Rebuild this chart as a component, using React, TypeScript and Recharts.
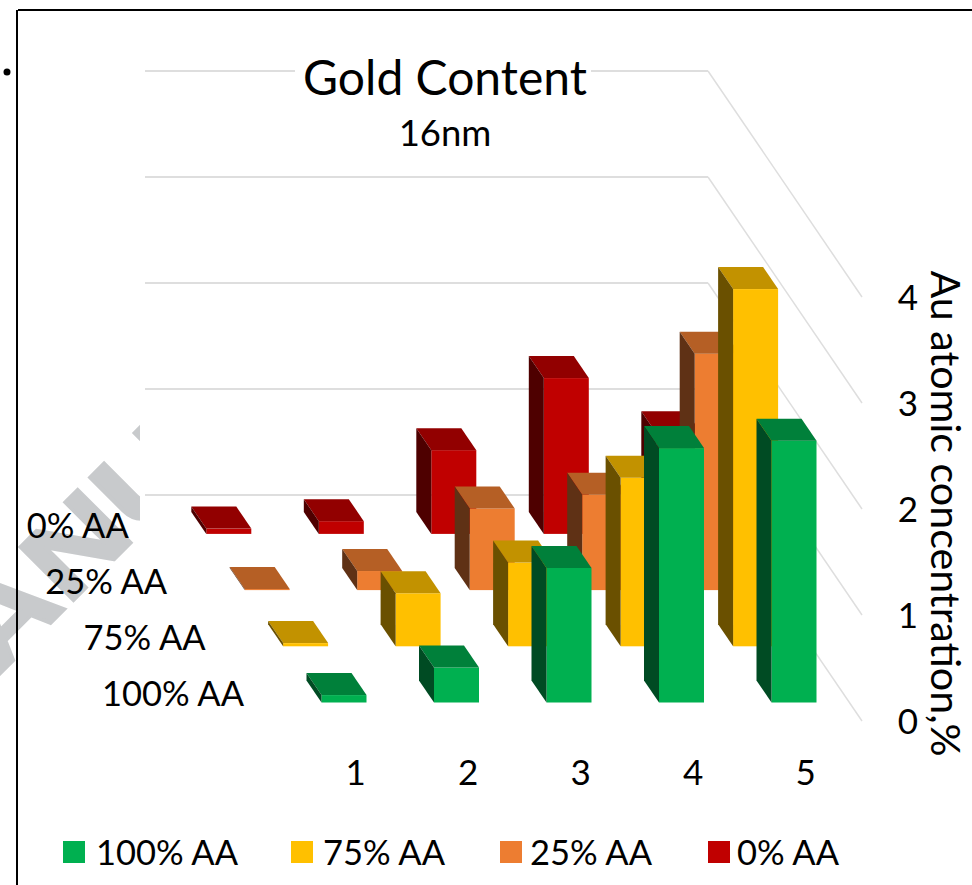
import { Bar, BarChart, CartesianGrid, XAxis, YAxis } from "recharts";

const FONT = "Lato, sans-serif";
const LABEL_SIZE = 34.5;
const TICK_SIZE = 35;

const runs = ["1", "2", "3", "4", "5"];
const yTicks = [0, 1, 2, 3, 4];

// back row first so the nearer rows paint over it
const seriesNames = ["0% AA", "25% AA", "75% AA", "100% AA"];
const red = [0.05, 0.12, 0.79, 1.47, 0.95];
const orange = [0.01, 0.18, 0.77, 0.9, 2.23];
const yellow = [0.03, 0.5, 0.79, 1.59, 3.37];
const green = [0.07, 0.33, 1.27, 2.4, 2.47];

const seriesValues = [red, orange, yellow, green];
const frontColors = ["#C00000", "#ED7D31", "#FFC000", "#00B050"];
const topColors = ["#920000", "#B55F25", "#C29200", "#00803A"];
const sideColors = ["#4E0000", "#5F3115", "#6A5000", "#004B23"];

const legendX = [63, 291, 500, 708];
const legendTextX = [96, 323, 530, 737];

const rows = runs.map((run, i) => ({
  run,
  s0: red[i],
  s1: orange[i],
  s2: yellow[i],
  s3: green[i],
}));

// one row further back in the fake perspective
const ROW_DX = 38.4;
const ROW_DY = 56.2;
const SIDE_DX = 15;
const SIDE_DY = 22;
const WALL_DY = -207.5;

function Box3D(props: any) {
  const { x, y, width, height, row } = props;
  const rowsBack = seriesValues.length - 1 - row;
  const left = x - rowsBack * ROW_DX + 0.5;
  const top = y - rowsBack * ROW_DY;
  const right = left + width;
  const bottom = top + height;
  const sideTop = top - SIDE_DY;
  const backLeft = left - SIDE_DX;
  return (
    <g>
      <rect x={left} y={top} width={width} height={height} fill={frontColors[row]} />
      <polygon
        points={`${backLeft},${sideTop} ${right - SIDE_DX},${sideTop} ${right},${top} ${left},${top}`}
        fill={topColors[row]}
      />
      <polygon
        points={`${backLeft},${sideTop} ${left},${top} ${left},${bottom} ${backLeft},${bottom - SIDE_DY}`}
        fill={sideColors[row]}
      />
    </g>
  );
}

function WallLine(props: any) {
  const y = props.y1;
  return (
    <g key={y}>
      <line x1={145} x2={708} y1={y + WALL_DY} y2={y + WALL_DY} stroke="#DEDEDE" strokeWidth={2} />
      <line x1={708} x2={862} y1={y + WALL_DY} y2={y + 18.5} stroke="#DEDEDE" strokeWidth={1.5} />
    </g>
  );
}

function RunTick(props: any) {
  return (
    <text
      x={props.x + 12.5}
      y={770.5}
      textAnchor="middle"
      dominantBaseline="central"
      fontFamily={FONT}
      fontSize={TICK_SIZE}
      fill="#000"
    >
      {props.payload.value}
    </text>
  );
}

function ValueTick(props: any) {
  return (
    <text
      x={908}
      y={props.y + 17.5}
      textAnchor="middle"
      dominantBaseline="central"
      fontFamily={FONT}
      fontSize={TICK_SIZE}
      fill="#000"
    >
      {props.payload.value}
    </text>
  );
}

export default function App() {
  return (
    <div style={{ position: "absolute", left: 0, top: 0, width: 972, height: 885, background: "#fff", overflow: "hidden" }}>
      <BarChart
        width={972}
        height={885}
        data={rows}
        barSize={45}
        barGap={-45}
        margin={{ top: 278.5, bottom: 122.5, left: 287, right: 62.5 }}
      >
        <defs>
          <clipPath id="stampClip">
            <rect x={0} y={420} width={140} height={300} />
          </clipPath>
        </defs>
        <g clipPath="url(#stampClip)">
          <text
            transform="translate(-3 677) rotate(-45) scale(1.25 1)"
            fontFamily="Liberation Sans, sans-serif"
            fontWeight={700}
            fontSize={110}
            fill="#C8CACC"
            stroke="#C8CACC"
            strokeWidth={3}
          >
            ANU
          </text>
        </g>
        <line x1={18} x2={972} y1={10} y2={10} stroke="#000" strokeWidth={2} />
        <line x1={17} x2={17} y1={10} y2={885} stroke="#000" strokeWidth={2} />
        <circle cx={7} cy={72} r={3.5} fill="#000" />

        <CartesianGrid vertical={false} horizontal={WallLine} />
        <XAxis dataKey="run" height={60} tick={RunTick} axisLine={false} tickLine={false} />
        <YAxis
          orientation="right"
          width={60}
          domain={[0, 4]}
          ticks={yTicks}
          tick={ValueTick}
          axisLine={false}
          tickLine={false}
        />
        {seriesNames.map((name, row) => (
          <Bar
            key={name}
            dataKey={`s${row}`}
            name={name}
            fill={frontColors[row]}
            isAnimationActive={false}
            shape={(p: any) => <Box3D {...p} row={row} />}
          />
        ))}

        <rect x={295} y={60} width={296} height={24} fill="#fff" />
        <text x={445} y={95} textAnchor="middle" fontFamily={FONT} fontSize={48} fill="#000">
          Gold Content
        </text>
        <text x={445} y={146} textAnchor="middle" fontFamily={FONT} fontSize={36.5} fill="#000">
          16nm
        </text>
        <text
          transform="translate(947 513.5) rotate(90)"
          textAnchor="middle"
          dominantBaseline="central"
          fontFamily={FONT}
          fontSize={41.2}
          fill="#000"
        >
          Au atomic concentration,%
        </text>

        {seriesNames.map((name, row) => (
          <text
            key={name}
            x={244 - (3 - row) * ROW_DX}
            y={692 - (3 - row) * 55.7}
            textAnchor="end"
            dominantBaseline="central"
            fontFamily={FONT}
            fontSize={LABEL_SIZE}
            fill="#000"
          >
            {name}
          </text>
        ))}

        {legendX.map((x, i) => {
          const row = seriesNames.length - 1 - i;
          return (
            <g key={seriesNames[row]}>
              <rect x={x} y={841} width={22} height={22} fill={frontColors[row]} />
              <text
                x={legendTextX[i]}
                y={851}
                dominantBaseline="central"
                fontFamily={FONT}
                fontSize={LABEL_SIZE}
                fill="#000"
              >
                {seriesNames[row]}
              </text>
            </g>
          );
        })}
      </BarChart>
    </div>
  );
}
